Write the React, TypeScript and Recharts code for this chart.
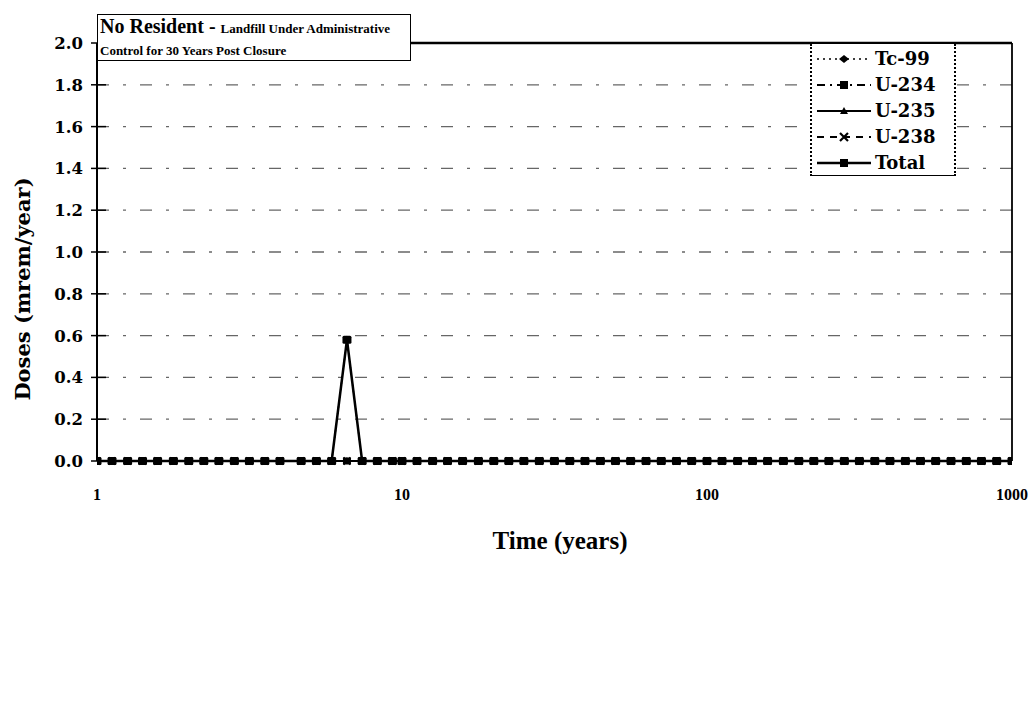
import React from "react";
import {
  LineChart,
  Line,
  XAxis,
  YAxis,
  CartesianGrid,
  ReferenceLine,
  Legend,
} from "recharts";

// Time (years), log-spaced sample times
const times = [
  1, 1.12, 1.26, 1.41, 1.58, 1.78, 2.0, 2.24, 2.51, 2.82,
  3.16, 3.55, 3.98, 4.67, 5.24, 5.88, 6.6, 7.4, 8.3, 9.3,
  10, 11.2, 12.6, 14.1, 15.8, 17.8, 20, 22.4, 25.1, 28.2,
  31.6, 35.5, 39.8, 44.7, 50.1, 56.2, 63.1, 70.8, 79.4, 89.1,
  100, 112, 126, 141, 158, 178, 200, 224, 251, 282,
  316, 355, 398, 447, 501, 562, 631, 708, 794, 891,
  1000,
];

// Doses (mrem/year)
const tc99 = [
  0, 0, 0, 0, 0, 0, 0, 0, 0, 0,
  0, 0, 0, 0, 0, 0, 0.58, 0, 0, 0,
  0, 0, 0, 0, 0, 0, 0, 0, 0, 0,
  0, 0, 0, 0, 0, 0, 0, 0, 0, 0,
  0, 0, 0, 0, 0, 0, 0, 0, 0, 0,
  0, 0, 0, 0, 0, 0, 0, 0, 0, 0,
  0,
];
const u234 = [
  0, 0, 0, 0, 0, 0, 0, 0, 0, 0,
  0, 0, 0, 0, 0, 0, 0, 0, 0, 0,
  0, 0, 0, 0, 0, 0, 0, 0, 0, 0,
  0, 0, 0, 0, 0, 0, 0, 0, 0, 0,
  0, 0, 0, 0, 0, 0, 0, 0, 0, 0,
  0, 0, 0, 0, 0, 0, 0, 0, 0, 0,
  0,
];
const u235 = [
  0, 0, 0, 0, 0, 0, 0, 0, 0, 0,
  0, 0, 0, 0, 0, 0, 0, 0, 0, 0,
  0, 0, 0, 0, 0, 0, 0, 0, 0, 0,
  0, 0, 0, 0, 0, 0, 0, 0, 0, 0,
  0, 0, 0, 0, 0, 0, 0, 0, 0, 0,
  0, 0, 0, 0, 0, 0, 0, 0, 0, 0,
  0,
];
const u238 = [
  0, 0, 0, 0, 0, 0, 0, 0, 0, 0,
  0, 0, 0, 0, 0, 0, 0, 0, 0, 0,
  0, 0, 0, 0, 0, 0, 0, 0, 0, 0,
  0, 0, 0, 0, 0, 0, 0, 0, 0, 0,
  0, 0, 0, 0, 0, 0, 0, 0, 0, 0,
  0, 0, 0, 0, 0, 0, 0, 0, 0, 0,
  0,
];
const total = [
  0, 0, 0, 0, 0, 0, 0, 0, 0, 0,
  0, 0, 0, 0, 0, 0, 0.58, 0, 0, 0,
  0, 0, 0, 0, 0, 0, 0, 0, 0, 0,
  0, 0, 0, 0, 0, 0, 0, 0, 0, 0,
  0, 0, 0, 0, 0, 0, 0, 0, 0, 0,
  0, 0, 0, 0, 0, 0, 0, 0, 0, 0,
  0,
];

const xTicks = [1, 10, 100, 1000];
const yTicks = [0, 0.2, 0.4, 0.6, 0.8, 1.0, 1.2, 1.4, 1.6, 1.8, 2.0];
const seriesNames = ["Tc-99", "U-234", "U-235", "U-238", "Total"];

const data = times.map((t, i) => ({
  t,
  tc99: tc99[i],
  u234: u234[i],
  u235: u235[i],
  u238: u238[i],
  total: total[i],
}));

const FONT = "'Liberation Serif', 'DejaVu Serif', serif";
const WIDE = "'DejaVu Serif', 'Liberation Serif', serif";

const diamondDot = (p: any) => {
  const { cx, cy, index } = p;
  if (cx == null || cy == null) return <g key={`dd-${index}`} />;
  return (
    <path
      key={`dd-${index}`}
      d={`M${cx},${cy - 4} L${cx + 4},${cy} L${cx},${cy + 4} L${cx - 4},${cy} Z`}
      fill="#000"
    />
  );
};
const squareDot = (p: any) => {
  const { cx, cy, index } = p;
  if (cx == null || cy == null) return <g key={`sd-${index}`} />;
  return <rect key={`sd-${index}`} x={cx - 4} y={cy - 3.5} width={8} height={7} fill="#000" />;
};
const triangleDot = (p: any) => {
  const { cx, cy, index } = p;
  if (cx == null || cy == null) return <g key={`td-${index}`} />;
  return (
    <path
      key={`td-${index}`}
      d={`M${cx},${cy - 4} L${cx + 4},${cy + 3} L${cx - 4},${cy + 3} Z`}
      fill="#000"
    />
  );
};
const crossDot = (p: any) => {
  const { cx, cy, index } = p;
  if (cx == null || cy == null) return <g key={`xd-${index}`} />;
  return (
    <path
      key={`xd-${index}`}
      d={`M${cx - 3.5},${cy - 3.5} L${cx + 3.5},${cy + 3.5} M${cx + 3.5},${cy - 3.5} L${cx - 3.5},${cy + 3.5}`}
      stroke="#000"
      strokeWidth={2}
    />
  );
};
const totalDot = (p: any) => {
  const { cx, cy, index } = p;
  if (cx == null || cy == null) return <g key={`to-${index}`} />;
  return <rect key={`to-${index}`} x={cx - 4.5} y={cy - 4} width={9} height={8} rx={1.5} fill="#000" />;
};

const YTick = (props: any) => {
  const { x, y, payload } = props;
  const axisX = x + 14;
  return (
    <g>
      <line x1={axisX} x2={axisX + 9} y1={y} y2={y} stroke="#000" strokeWidth={1.5} />
      <text
        x={x}
        y={y}
        dy={6}
        textAnchor="end"
        fontFamily={WIDE}
        fontWeight="bold"
        fontSize={16.5}
        fill="#000"
      >
        {Number(payload.value).toFixed(1)}
      </text>
    </g>
  );
};

const XTick = (props: any) => {
  const { x, y, payload } = props;
  return (
    <text
      x={x}
      y={y}
      dy={15}
      textAnchor="middle"
      fontFamily={FONT}
      fontWeight="bold"
      fontSize={16}
      fill="#000"
    >
      {payload.value}
    </text>
  );
};

const legendSamples = [
  { name: seriesNames[0], dash: "2 4", marker: "diamond", w: 1.5 },
  { name: seriesNames[1], dash: "8 5 2 5", marker: "square", w: 2 },
  { name: seriesNames[2], dash: "", marker: "triangle", w: 2 },
  { name: seriesNames[3], dash: "7 6", marker: "cross", w: 2 },
  { name: seriesNames[4], dash: "", marker: "square", w: 2.5 },
];

const LegendMarker = ({ kind }: { kind: string }) => {
  const cx = 28;
  const cy = 8;
  if (kind === "diamond")
    return <path d={`M${cx},${cy - 4} L${cx + 5},${cy} L${cx},${cy + 4} L${cx - 5},${cy} Z`} fill="#000" />;
  if (kind === "square") return <rect x={cx - 4} y={cy - 4} width={8} height={8} fill="#000" />;
  if (kind === "triangle")
    return <path d={`M${cx},${cy - 4} L${cx + 4},${cy + 3} L${cx - 4},${cy + 3} Z`} fill="#000" />;
  return (
    <path
      d={`M${cx - 4},${cy - 4} L${cx + 4},${cy + 4} M${cx + 4},${cy - 4} L${cx - 4},${cy + 4}`}
      stroke="#000"
      strokeWidth={2.2}
    />
  );
};

const renderLegend = () => (
  <div
    style={{
      width: 146,
      height: 132,
      borderLeft: "2px dotted #000",
      borderRight: "2px dotted #000",
      borderBottom: "1.5px solid #000",
      background: "#fff",
      boxSizing: "border-box",
      paddingTop: 2,
      fontFamily: WIDE,
      fontWeight: "bold",
      fontSize: 18,
      color: "#000",
    }}
  >
    {legendSamples.map((s) => (
      <div key={s.name} style={{ display: "flex", alignItems: "center", height: 26, paddingLeft: 4 }}>
        <svg width={56} height={16} style={{ display: "block" }}>
          <line
            x1={1}
            x2={55}
            y1={8}
            y2={8}
            stroke="#000"
            strokeWidth={s.w}
            strokeDasharray={s.dash || undefined}
          />
          <LegendMarker kind={s.marker} />
        </svg>
        <span style={{ marginLeft: 3, lineHeight: "20px" }}>{s.name}</span>
      </div>
    ))}
  </div>
);

export default function App() {
  return (
    <div
      style={{
        position: "absolute",
        left: 0,
        top: 0,
        width: 1036,
        height: 725,
        background: "#fff",
        overflow: "hidden",
      }}
    >
      <LineChart
        width={1036}
        height={725}
        data={data}
        margin={{ top: 43, right: 24, left: 0, bottom: 204 }}
      >
        <CartesianGrid
          vertical={false}
          stroke="#000"
          strokeOpacity={0.6}
          strokeWidth={1.3}
          strokeDasharray="12 14 3 14"
        />
        <XAxis
          dataKey="t"
          type="number"
          scale="log"
          domain={[1, 1000]}
          ticks={xTicks}
          allowDataOverflow
          height={60}
          tickSize={0}
          tickMargin={24}
          tickLine={false}
          axisLine={{ stroke: "#000", strokeWidth: 2 }}
          tick={<XTick />}
        />
        <YAxis
          type="number"
          domain={[0, 2]}
          ticks={yTicks}
          width={97}
          tickSize={6}
          tickMargin={8}
          tickLine={{ stroke: "#000", strokeWidth: 1.5 }}
          axisLine={{ stroke: "#000", strokeWidth: 2 }}
          tick={<YTick />}
          interval={0}
        />
        <ReferenceLine y={2} stroke="#000" strokeWidth={2.5} ifOverflow="extendDomain" />
        <ReferenceLine x={1000} stroke="#000" strokeWidth={1.8} />
        <Legend
          verticalAlign="middle"
          align="center"
          layout="horizontal"
          content={renderLegend}
          wrapperStyle={{ position: "absolute", left: 810, top: 44, width: 146, height: 132 }}
        />
        <Line
          dataKey="u238"
          name={seriesNames[3]}
          stroke="#000"
          strokeWidth={2}
          strokeDasharray="7 6"
          dot={crossDot}
          isAnimationActive={false}
          type="linear"
        />
        <Line
          dataKey="u235"
          name={seriesNames[2]}
          stroke="#000"
          strokeWidth={2}
          dot={triangleDot}
          isAnimationActive={false}
          type="linear"
        />
        <Line
          dataKey="u234"
          name={seriesNames[1]}
          stroke="#000"
          strokeWidth={2}
          strokeDasharray="8 5 2 5"
          dot={squareDot}
          isAnimationActive={false}
          type="linear"
        />
        <Line
          dataKey="tc99"
          name={seriesNames[0]}
          stroke="#000"
          strokeWidth={1.5}
          strokeDasharray="2 4"
          dot={diamondDot}
          isAnimationActive={false}
          type="linear"
        />
        <Line
          dataKey="total"
          name={seriesNames[4]}
          stroke="#000"
          strokeWidth={2.5}
          dot={totalDot}
          isAnimationActive={false}
          type="linear"
        />
      </LineChart>

      {/* Title box */}
      <div
        style={{
          position: "absolute",
          left: 97,
          top: 14,
          width: 314,
          height: 47,
          border: "1.5px solid #000",
          background: "#fff",
          boxSizing: "border-box",
          fontFamily: FONT,
          fontWeight: "bold",
          color: "#000",
          paddingLeft: 2,
          lineHeight: "22px",
        }}
      >
        <div style={{ whiteSpace: "nowrap" }}>
          <span style={{ fontSize: 20 }}>No Resident - </span>
          <span style={{ fontSize: 13 }}>Landfill Under Administrative</span>
        </div>
        <div style={{ fontSize: 13, whiteSpace: "nowrap" }}>Control for 30 Years Post Closure</div>
      </div>

      {/* Y axis title */}
      <div
        style={{
          position: "absolute",
          left: 22,
          top: 289,
          transform: "translate(-50%, -50%) rotate(-90deg)",
          fontFamily: WIDE,
          fontWeight: "bold",
          fontSize: 21,
          whiteSpace: "nowrap",
          color: "#000",
        }}
      >
        Doses (mrem/year)
      </div>

      {/* X axis title */}
      <div
        style={{
          position: "absolute",
          left: 560,
          top: 541,
          transform: "translate(-50%, -50%)",
          fontFamily: FONT,
          fontWeight: "bold",
          fontSize: 25,
          whiteSpace: "nowrap",
          color: "#000",
        }}
      >
        Time (years)
      </div>
    </div>
  );
}
